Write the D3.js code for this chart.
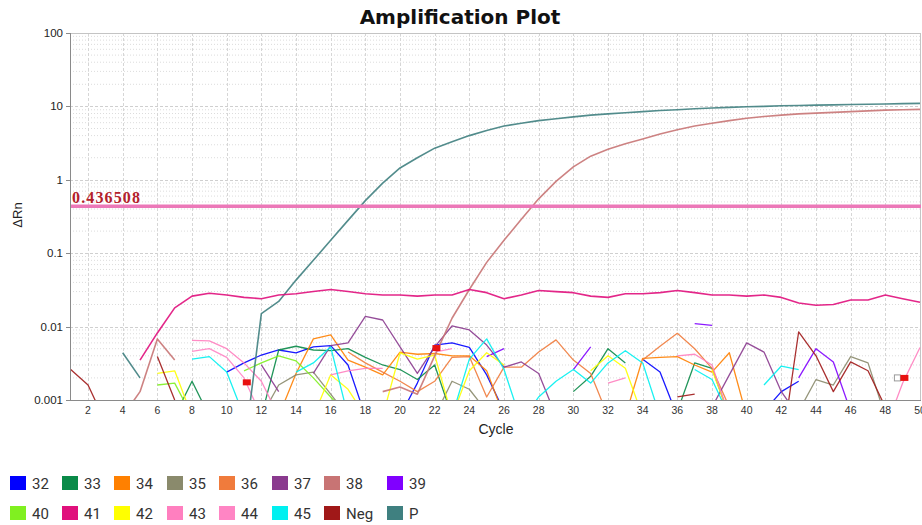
<!DOCTYPE html>
<html><head><meta charset="utf-8">
<script src="https://cdn.jsdelivr.net/npm/d3@7"></script>
<style>body{margin:0;background:#fff}</style>
</head><body>
<svg id="c" width="922" height="525"></svg>
<script>
const n = null;
const cycles = d3.range(1, 51);
const seriesNames = ["32","33","34","35","36","37","38","39","40","41","42","43","44","45","Neg","P"];
const seriesColors = ["#0000ff","#098a48","#ff8000","#8a8a6c","#f07b3c","#8a3a8e","#c87474","#8000ff",
                      "#80f020","#e0107c","#ffff00","#ff7fbf","#ff85c4","#00f0f0","#a01818","#3f8080"];
const s32 = [n,n,n,n,n,n,n,n,n,0.0024, 0.0032,0.0041,0.0048,0.0044,0.0053,0.0055,0.0030,0.0006,n,0.0006,
             0.0017,0.0056,0.0060,0.0052,0.0022,0.0007,n,n,n,n, n,n,n,0.0036,0.0024,0.0006,n,n,n,n,
             0.0007,0.0013,0.0018,n,n,n,n,n,n,n];
const s33 = [n,n,n,n,n,n,0.0006,0.0018,0.0006,n, n,0.0006,0.0048,0.0054,0.0048,0.0047,0.0050,0.0038,0.0030,0.0026,
             0.0019,0.0030,0.0006,n,n,n,n,n,n,0.0013, 0.0021,0.0050,0.0032,n,n,0.0007,0.0032,0.0027,0.0006,n,
             n,n,n,n,n,n,n,n,n,n];
const s34 = [n,n,n,n,n,n,n,n,n,n, n,n,0.0006,0.0023,0.0068,0.0077,0.0035,0.0028,0.0022,0.0045,
             0.0042,0.0043,0.0040,0.0040,0.0025,0.0006,n,n,n,n, n,n,0.0006,0.0037,0.0038,0.0039,0.0030,0.0024,0.0044,0.0006,
             n,n,n,n,n,n,n,n,n,n];
const s35 = [n,n,n,n,n,n,n,n,n,n, n,0.0006,0.0016,0.0022,0.0024,0.0012,0.0006,n,n,n,
             n,0.0006,0.0018,0.0014,0.0007,n,n,n,n,n, n,n,n,n,n,n,n,n,n,n,
             n,n,0.0007,0.0019,0.0016,0.0039,0.0032,0.0006,n,n];
const s36 = [n,n,n,n,n,n,n,n,n,n, n,n,n,n,n,n,0.0045,0.0032,0.0024,0.0018,
             0.0013,0.0018,0.0038,0.0039,0.0011,0.0028,0.0028,0.0045,0.0066,0.0035, 0.0023,0.0006,n,0.0035,0.0054,0.0081,0.0050,0.0027,0.0008,n,
             n,n,n,n,n,n,n,n,n,n];
const s37 = [n,n,n,n,n,n,n,n,n,n, n,0.0030,0.0013,n,0.0023,0.0055,0.0060,0.0138,0.0123,0.0053,
             0.0023,0.0053,0.0102,0.0090,0.0056,0.0028,0.0033,0.0023,0.0006,n, n,n,n,n,n,n,n,0.0008,0.0022,0.0060,
             0.0045,0.0013,0.0006,n,n,n,n,n,n,n];
const s38 = [n,n,n,0.0006,0.0013,0.0068,0.0035,n,n,n, n,n,n,n,n,n,n,n,0.0013,0.0015,
             0.0012,0.0040,0.013,0.032,0.075,0.15,0.29,0.55,0.95,1.5, 2.1,2.6,3.1,3.6,4.2,4.8,5.4,5.9,6.4,6.9,
             7.3,7.6,7.9,8.1,8.3,8.5,8.7,8.9,9.0,9.1];
const s39 = [n,n,n,n,n,n,n,n,n,n, n,n,n,n,n,n,n,n,n,n,
             n,n,n,n,0.0039,0.0050,n,n,n,0.0026, 0.0053,n,n,n,n,n,0.0110,0.0104,n,n,
             n,n,0.0020,0.0050,0.0033,0.0007,n,n,n,n];
const s40 = [n,n,n,n,n,0.0016,0.0017,0.0006,n,n, 0.0025,0.0032,0.0040,0.0034,0.0020,0.0011,0.0006,n,n,n,
             n,n,n,n,n,n,n,n,n,n, n,n,n,n,n,n,n,n,n,n, n,n,n,n,n,n,n,n,n,n];
const s41 = [n,n,n,n,0.0035,0.0082,0.018,0.026,0.0285,0.027, 0.025,0.024,0.027,0.028,0.030,0.032,0.030,0.028,0.027,0.027,
             0.026,0.027,0.027,0.032,0.029,0.024,0.027,0.031,0.030,0.029, 0.026,0.025,0.028,0.028,0.029,0.031,0.029,0.027,0.027,0.026,
             0.027,0.025,0.021,0.0195,0.020,0.023,0.023,0.027,0.024,0.0215];
const s42 = [n,n,n,n,n,0.0023,0.0025,0.0006,n,n, n,n,n,n,0.0006,0.0022,0.0014,0.0006,0.0006,0.0044,
             0.0036,0.0041,0.0006,0.0025,0.0044,0.0030,n,n,n,n, 0.0025,0.0040,0.0027,0.0006,n,n,n,0.0026,0.0006,n,
             n,n,n,n,n,n,n,n,n,n];
const s43 = [n,n,n,n,n,n,n,0.0065,0.0064,0.0050, 0.0032,0.0018,0.0006,n,n,0.0022,0.0025,0.0027,0.0027,n,
             n,n,n,n,n,n,n,n,n,n, n,0.0017,0.0020,n,n,0.0040,0.0042,0.0030,0.0006,n,
             n,n,n,n,n,n,n,0.0004,0.0017,0.0052];
const s44 = [n,n,n,n,n,n,n,0.0046,0.0050,0.0038, 0.0020,0.0006,n,n,n,n,n,n,n,n,
             n,0.0045,0.0050,n,n,n,n,n,n,n, n,n,n,n,n,n,n,n,n,n, n,n,n,n,n,n,n,n,n,n];
const s45 = [n,n,n,n,n,n,n,0.0036,0.0039,0.0024, 0.0006,n,n,0.0024,0.0032,0.0053,0.0006,n,n,n,
             n,n,0.0006,0.0036,0.0068,0.0026,0.0005,0.0011,0.0018,0.0026, 0.0017,0.0032,0.0047,0.0032,0.0006,n,0.0026,0.0019,0.0006,n,
             0.0016,0.0029,0.0026,n,n,n,n,n,n,n];
const sNeg = [0.0026,0.0016,0.0005,n,n,0.0039,0.0010,n,n,n, n,n,n,n,n,n,n,n,n,n,
              n,n,n,n,n,n,n,n,n,n, n,n,n,n,n,0.0011,0.0012,n,n,n,
              n,0.0002,0.0085,0.0040,0.0013,0.0033,0.0025,0.0008,n,n];
const sP = [n,n,n,0.0044,0.0020,n,n,n,n,n, 0.0002,0.015,0.022,0.043,0.08,0.15,0.28,0.52,0.9,1.45,
            2.0,2.7,3.3,4.0,4.7,5.4,5.9,6.4,6.8,7.2, 7.6,7.9,8.2,8.5,8.8,9.0,9.3,9.5,9.7,9.9,
            10.0,10.2,10.3,10.4,10.5,10.6,10.7,10.8,10.9,11.0];
const seriesValues = [s32,s33,s34,s35,s36,s37,s38,s39,s40,s41,s42,s43,s44,s45,sNeg,sP];
const thresholdValue = 0.436508;
const thresholdLabel = "0.436508";
const yTickValues = [100,10,1,0.1,0.01,0.001];
const yTickLabels = ["100","10","1","0.1","0.01","0.001"];
const xTickValues = d3.range(2, 51, 2);
const markerCycles = [11.16, 22.1, 49.1];
const markerValues = [0.00174, 0.0051, 0.0020];

const svg = d3.select("#c");
const L = 70, R = 921, T = 33, B = 400;
const x = d3.scaleLinear().domain([1, 50]).range([70.7, 920]);
const y = d3.scaleLog().domain([0.001, 100]).range([B, T]);

// grid
const g = svg.append("g");
const minor = [];
[-3,-2,-1,0,1].forEach(k => { for (let m = 2; m <= 9; m++) minor.push(m * Math.pow(10, k)); });
g.selectAll(".mn").data(minor).join("line")
  .attr("x1", L).attr("x2", R).attr("y1", d => y(d)).attr("y2", d => y(d))
  .attr("stroke", "#dcdcdc").attr("stroke-width", 1).attr("stroke-dasharray", "1,2");
g.selectAll(".mj").data(yTickValues.slice(0, 5)).join("line")
  .attr("x1", L).attr("x2", R).attr("y1", d => Math.round(y(d)) + 0.5).attr("y2", d => Math.round(y(d)) + 0.5)
  .attr("stroke", "#cfcfcf").attr("stroke-dasharray", "3,2");
g.selectAll(".vx").data(xTickValues).join("line")
  .attr("x1", d => Math.round(x(d)) + 0.5).attr("x2", d => Math.round(x(d)) + 0.5)
  .attr("y1", T).attr("y2", B)
  .attr("stroke", "#d6d6d6").attr("stroke-dasharray", "3,2");

// frame
svg.append("rect").attr("x", L + 0.5).attr("y", T + 0.5).attr("width", R - L - 1).attr("height", B - T)
  .attr("fill", "none").attr("stroke", "#c4c4c4");

// clip
svg.append("clipPath").attr("id", "clp").append("rect")
  .attr("x", L).attr("y", T).attr("width", R - L).attr("height", B - T);
const plot = svg.append("g").attr("clip-path", "url(#clp)");

const line = d3.line()
  .defined(d => d.v != null)
  .x(d => x(d.c)).y(d => y(d.v));

const order = [0,1,2,3,4,5,7,8,10,11,12,13,14,6,15,9];
order.forEach(i => {
  const data = cycles.map((c, j) => ({c: c, v: seriesValues[i][j]}));
  plot.append("path").datum(data)
    .attr("d", line)
    .attr("fill", "none")
    .attr("stroke", seriesColors[i])
    .attr("stroke-width", (i === 6 || i === 15 || i === 9) ? 1.6 : 1.3)
    .attr("stroke-linejoin", "round")
    .attr("opacity", 0.9);
});

// markers
plot.append("rect").attr("x", x(markerCycles[2]) - 10).attr("y", y(markerValues[2]) - 3)
  .attr("width", 6).attr("height", 6).attr("fill", "#fff").attr("stroke", "#999").attr("stroke-width", 1);
plot.selectAll(".mk").data(markerCycles).join("rect")
  .attr("x", d => x(d) - 4).attr("y", (d, i) => y(markerValues[i]) - 3)
  .attr("width", 8).attr("height", 6).attr("fill", "#e81010");

// threshold
plot.append("line").attr("x1", L).attr("x2", R)
  .attr("y1", y(thresholdValue)).attr("y2", y(thresholdValue))
  .attr("stroke", "#ec78b8").attr("stroke-width", 3.5);
svg.append("text").attr("x", 72).attr("y", y(thresholdValue) - 3)
  .attr("font-family", "Liberation Serif, Times New Roman, serif").attr("font-weight", "bold")
  .attr("font-size", 16).attr("fill", "#b3202a").attr("textLength", 68).text(thresholdLabel);

// axes lines
svg.append("line").attr("x1", L + 0.5).attr("x2", L + 0.5).attr("y1", T).attr("y2", B + 0.5).attr("stroke", "#8a8a8a");
svg.append("line").attr("x1", L).attr("x2", R).attr("y1", B + 0.5).attr("y2", B + 0.5).attr("stroke", "#8a8a8a");

// y ticks
svg.selectAll(".yt").data(yTickValues).join("line")
  .attr("x1", 66).attr("x2", L).attr("y1", d => Math.round(y(d)) + 0.5).attr("y2", d => Math.round(y(d)) + 0.5)
  .attr("stroke", "#8a8a8a");
svg.selectAll(".yl").data(yTickValues).join("text")
  .attr("x", 63).attr("y", d => y(d) + 4).attr("text-anchor", "end")
  .attr("font-family", "Liberation Sans, Arial, sans-serif").attr("font-size", 11.5).attr("fill", "#222")
  .text((d, i) => yTickLabels[i]);
svg.selectAll(".xl").data(xTickValues).join("text")
  .attr("x", d => x(d)).attr("y", 414).attr("text-anchor", "middle")
  .attr("font-family", "Liberation Sans, Arial, sans-serif").attr("font-size", 10.5).attr("fill", "#333")
  .text(d => d);

// titles
svg.append("text").attr("x", 460).attr("y", 24).attr("text-anchor", "middle")
  .attr("font-family", "DejaVu Sans, Verdana, sans-serif").attr("font-weight", "bold")
  .attr("font-size", 20).attr("fill", "#111").text("Amplification Plot");
svg.append("text").attr("x", 496).attr("y", 434).attr("text-anchor", "middle")
  .attr("font-family", "Liberation Sans, Arial, sans-serif").attr("font-size", 14).attr("fill", "#222").text("Cycle");
svg.append("text").attr("transform", "translate(22,215) rotate(-90)").attr("text-anchor", "middle")
  .attr("font-family", "Liberation Sans, Arial, sans-serif").attr("font-size", 13).attr("fill", "#222").text("ΔRn");

// legend
const legX = [10, 62, 114, 167, 219, 272, 324, 387];
const legY = [483, 513];
const lg = svg.append("g");
seriesNames.forEach((nm, i) => {
  const cx = legX[i % 8], cy = legY[Math.floor(i / 8)];
  lg.append("rect").attr("x", cx).attr("y", cy - 7).attr("width", 16).attr("height", 14).attr("fill", seriesColors[i]);
  lg.append("text").attr("x", cx + 22).attr("y", cy + 5.5)
    .attr("font-family", "Roboto, Liberation Sans, Arial, sans-serif").attr("font-size", 15).attr("fill", "#333").text(nm);
});
</script>
</body></html>
